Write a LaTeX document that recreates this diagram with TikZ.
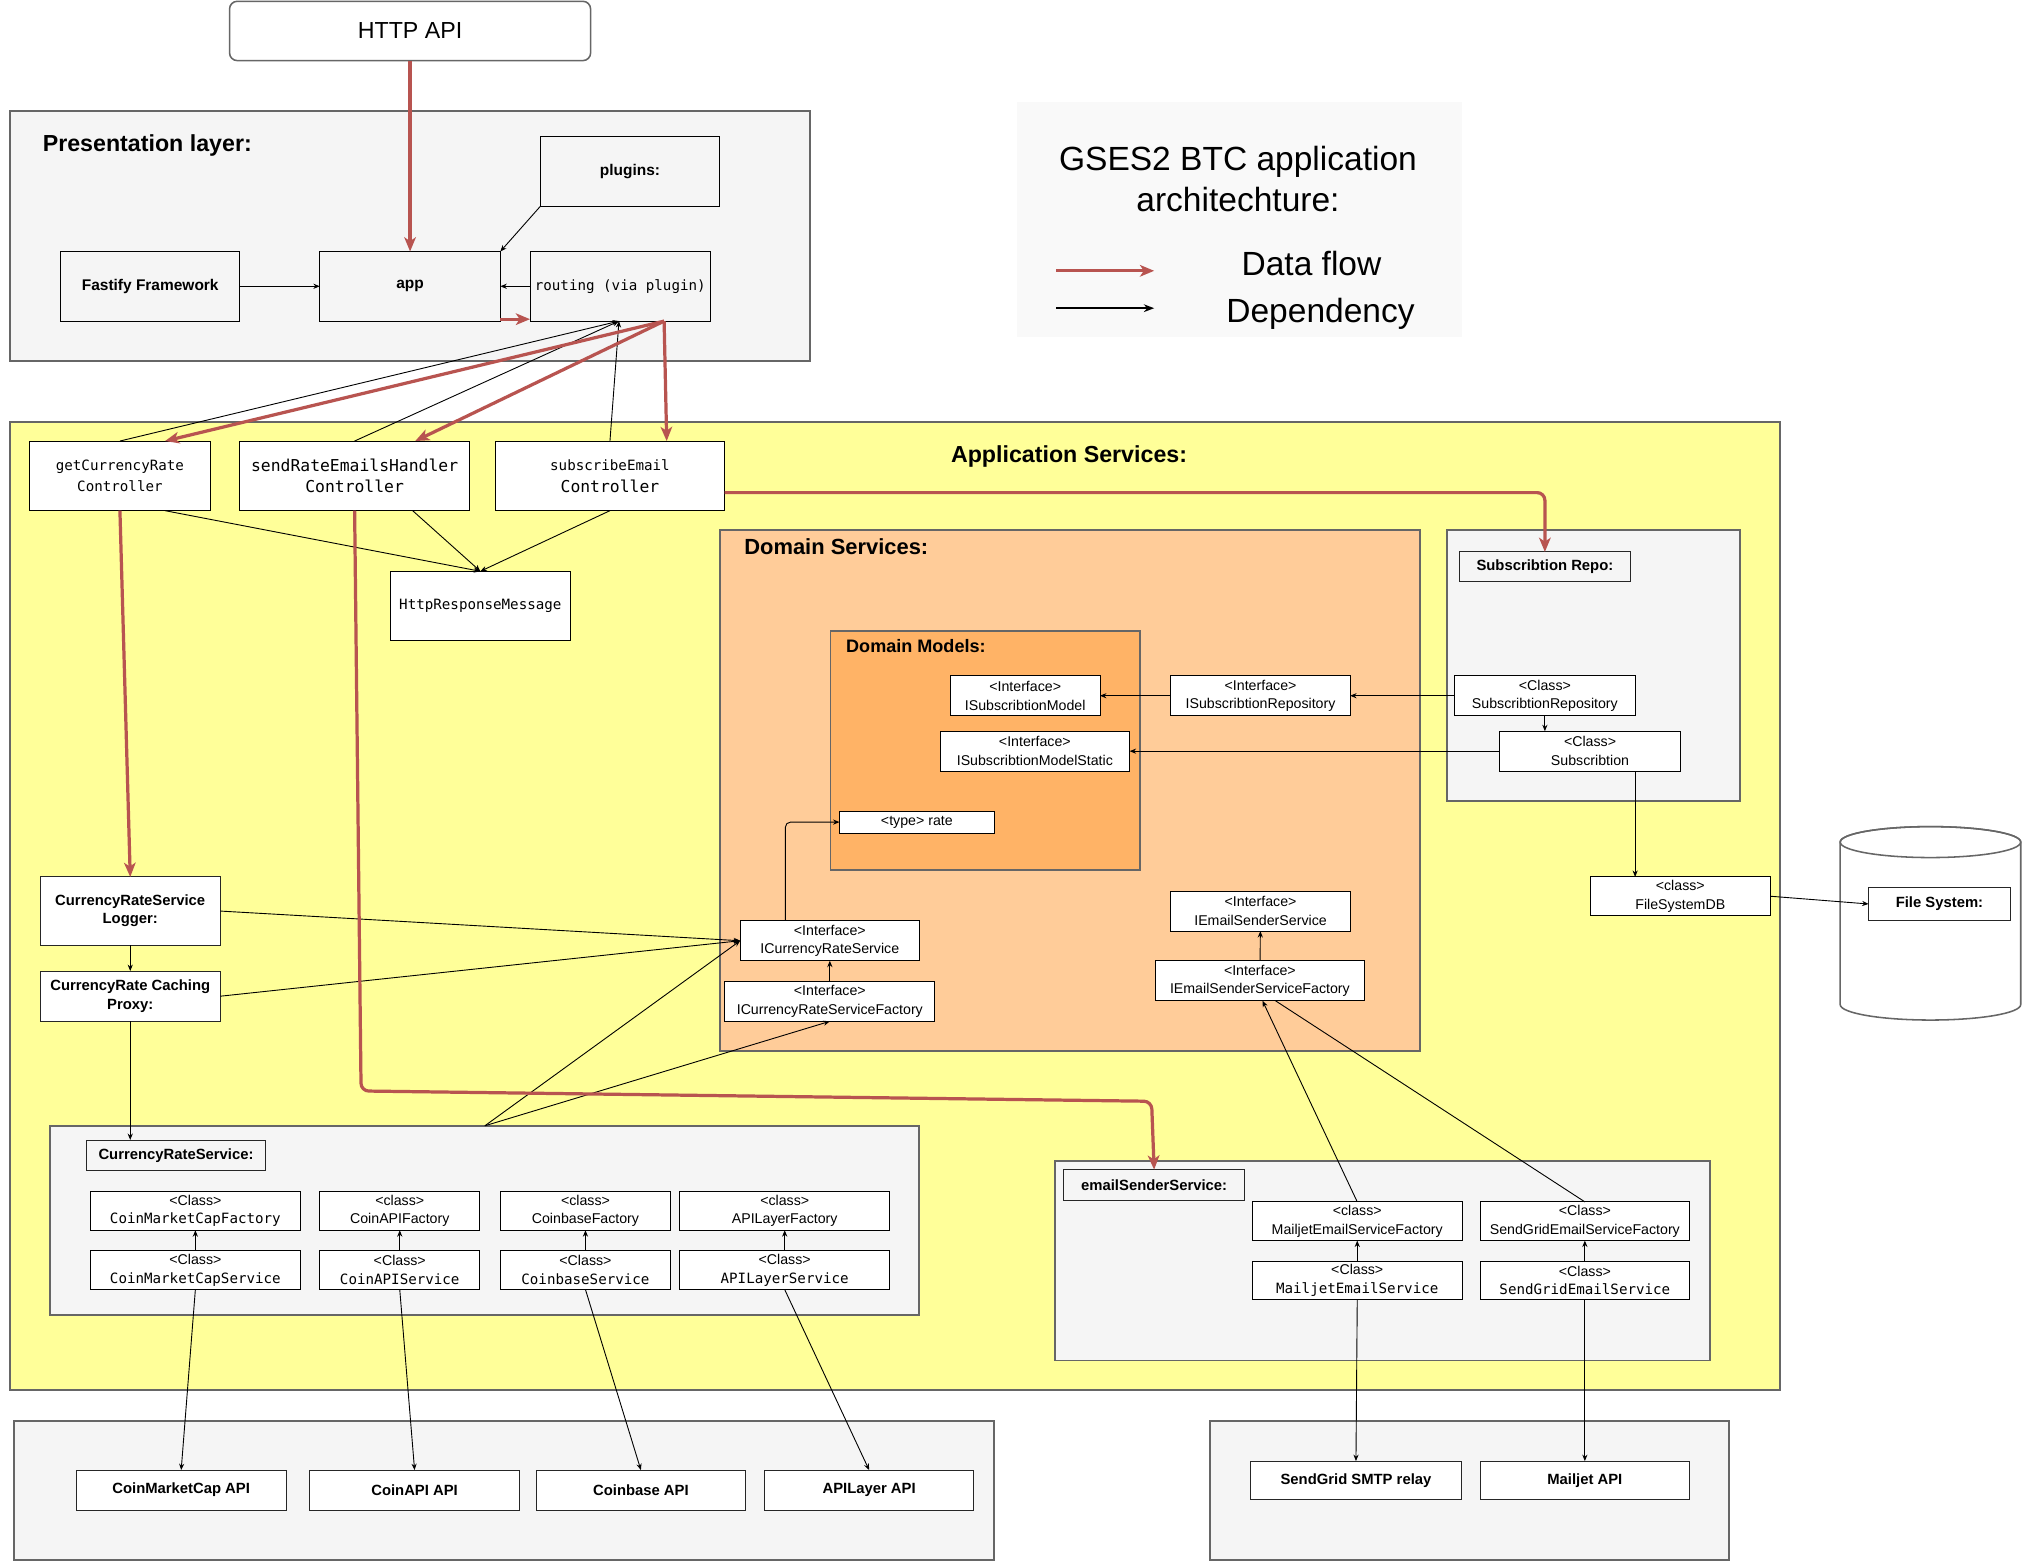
\documentclass[tikz,border=0pt]{standalone}
\usepackage{fontspec}
\setmainfont{Liberation Sans}
\setmonofont{DejaVu Sans Mono}
\usetikzlibrary{arrows.meta}

\definecolor{flowred}{HTML}{B85450}
\definecolor{layergray}{HTML}{F5F5F5}
\definecolor{layerline}{HTML}{666666}
\definecolor{appyellow}{HTML}{FFFF99}
\definecolor{domorange}{HTML}{FFCC99}
\definecolor{modorange}{HTML}{FFB366}
\definecolor{legendgray}{HTML}{F9F9F9}

\tikzset{
  sz/.style 2 args={minimum width=#1pt, minimum height=#2pt},
  layer/.style={draw=layerline, line width=1.5pt, anchor=north west, inner sep=0pt, outer sep=0pt},
  title/.style={anchor=west, inner sep=0pt},
  box/.style={draw, fill=white, line width=0.7pt, align=center, inner sep=0pt, outer sep=0pt, font=\fontsize{11}{14.5}\selectfont},
  lbl/.style={box, draw=black!85, font=\bfseries\fontsize{11.5}{14}\selectfont},
  gbox/.style={box, fill=layergray, font=\bfseries\fontsize{12}{14}\selectfont},
  flow/.style={draw=flowred, line width=2.5pt, -{Stealth[length=11pt,width=9pt,inset=3pt]}},
  dep/.style={line width=0.7pt, -{Stealth[length=5pt,width=4pt]}},
}

\begin{document}
\begin{tikzpicture}[x=1pt, y=-1pt]
  \useasboundingbox (0,0) rectangle (1568,1211);

  % layers
  \node[layer, fill=legendgray, draw=none, sz={345}{182}] (legend) at (789,79) {};
  \node[layer, fill=layergray, sz={620}{194}] (pres) at (8,86) {};
  \node[layer, fill=appyellow, sz={1372}{751}] (appsvc) at (8,327) {};
  \node[layer, fill=domorange, sz={543}{404}] (domsvc) at (558,411) {};
  \node[layer, fill=modorange, sz={240}{186}] (dommod) at (644,489) {};
  \node[layer, fill=layergray, sz={227}{210}] (subrepo) at (1122,411) {};
  \node[layer, fill=layergray, sz={674}{147}] (crs) at (39,873) {};
  \node[layer, fill=layergray, sz={508}{155}] (ess) at (818,900) {};
  \node[layer, fill=layergray, sz={760}{108}] (extapi) at (11,1102) {};
  \node[layer, fill=layergray, sz={403}{108}] (extmail) at (938,1102) {};

  \node[title, font=\bfseries\fontsize{18}{22}\selectfont] (prestitle) at (33,113) {Presentation layer:};
  \node[font=\bfseries\fontsize{18}{22}\selectfont] (apptitle) at (829,354) {Application Services:};
  \node[title, font=\bfseries\fontsize{17}{20}\selectfont] (domtitle) at (577,424) {Domain Services:};
  \node[title, font=\bfseries\fontsize{14}{17}\selectfont] (modtitle) at (656,501) {Domain Models:};

  % legend
  \node[font=\fontsize{26}{32}\selectfont, align=center] (legtitle) at (960,139) {GSES2 BTC application\\architechture:};
  \node[font=\fontsize{26}{32}\selectfont] (legflow) at (1017,204) {Data flow};
  \node[font=\fontsize{26}{32}\selectfont] (legdep) at (1024,243) {Dependency};
  \coordinate (flowA) at (819,210);
  \coordinate (flowB) at (895,210);
  \coordinate (depA) at (819,239);
  \coordinate (depB) at (895,239);
  \draw[flow] (flowA) -- (flowB);
  \draw[line width=1.3pt, -{Stealth[length=8pt,width=6pt]}] (depA) -- (depB);

  % presentation
  \node[box, draw=layerline, line width=1.2pt, rounded corners=6pt, sz={280}{46}, font=\fontsize{18}{22}\selectfont] (http) at (318,24) {HTTP API};
  \node[gbox, sz={139}{54}] (plugins) at (488.5,133) {plugins:};
  \node[gbox, sz={139}{54}] (fastify) at (116.5,222) {Fastify Framework};
  \node[gbox, sz={140}{54}] (app) at (318,222) {app};
  \node[gbox, sz={140}{54}, font=\ttfamily\fontsize{11}{14}\selectfont] (routing) at (481,222) {routing (via plugin)};

  % controllers
  \node[box, sz={140}{54}, font=\ttfamily\fontsize{11}{17}\selectfont] (getcr) at (93,369) {getCurrencyRate\\Controller};
  \node[box, sz={178}{54}, font=\ttfamily\fontsize{12.7}{17}\selectfont] (sendre) at (275,369) {sendRateEmailsHandler\\Controller};
  \node[box, sz={178}{54}, font=\ttfamily\fontsize{11}{17}\selectfont] (subem) at (473,369) {subscribeEmail\\{\fontsize{12.7}{17}\selectfont Controller}};
  \node[box, sz={139}{54}, font=\ttfamily\fontsize{11}{14}\selectfont] (httpresp) at (372.5,470) {HttpResponseMessage};

  \node[lbl, sz={140}{53}] (logger) at (101,706.5) {CurrencyRateService\\Logger:};
  \node[lbl, sz={140}{39}] (proxy) at (101,772.5) {CurrencyRate Caching\\Proxy:};

  % currency rate services
  \node[lbl, fill=layergray, sz={139}{24}] (crslbl) at (136.5,896) {CurrencyRateService:};
  \node[box, sz={163}{30}] (cmcf) at (151.5,939) {<Class>\\{\ttfamily CoinMarketCapFactory}};
  \node[box, sz={163}{30}] (cmcs) at (151.5,985) {<Class>\\{\ttfamily CoinMarketCapService}};
  \node[box, sz={124}{30}] (capif) at (310,939) {<class>\\CoinAPIFactory};
  \node[box, sz={124}{30}] (capis) at (310,985) {<Class>\\{\ttfamily CoinAPIService}};
  \node[box, sz={132}{30}] (cbf) at (454,939) {<class>\\CoinbaseFactory};
  \node[box, sz={132}{30}] (cbs) at (454,985) {<Class>\\{\ttfamily CoinbaseService}};
  \node[box, sz={163}{30}] (alf) at (608.5,939) {<class>\\APILayerFactory};
  \node[box, sz={163}{30}] (als) at (608.5,985) {<Class>\\{\ttfamily APILayerService}};

  \node[lbl, sz={163}{31}] (cmcapi) at (140.5,1155.5) {CoinMarketCap API};
  \node[lbl, sz={163}{31}] (capiapi) at (321.5,1155.5) {CoinAPI API};
  \node[lbl, sz={162}{31}] (cbapi) at (497,1155.5) {Coinbase API};
  \node[lbl, sz={162}{31}] (alapi) at (674,1155.5) {APILayer API};

  % domain
  \node[box, sz={116}{31}] (isubmodel) at (795,539.5) {<Interface>\\ISubscribtionModel};
  \node[box, sz={147}{31}] (isubstatic) at (802.5,582.5) {<Interface>\\ISubscribtionModelStatic};
  \node[box, sz={120}{17}] (rate) at (711,637.5) {<type> rate};
  \node[box, sz={139}{31}] (isubrepo) at (977.5,539.5) {<Interface>\\ISubscribtionRepository};
  \node[box, sz={139}{31}] (iess) at (977.5,706.5) {<Interface>\\IEmailSenderService};
  \node[box, sz={162}{31}] (iessf) at (977,760.5) {<Interface>\\IEmailSenderServiceFactory};
  \node[box, sz={139}{31}] (icrs) at (643.5,729.5) {<Interface>\\ICurrencyRateService};
  \node[box, sz={163}{31}] (icrsf) at (643.5,776.5) {<Interface>\\ICurrencyRateServiceFactory};

  % subscribtion repo and storage
  \node[lbl, fill=layergray, sz={132}{23}] (subrepolbl) at (1198,439.5) {Subscribtion Repo:};
  \node[box, sz={140}{31}] (subrepocls) at (1198,539.5) {<Class>\\SubscribtionRepository};
  \node[box, sz={140}{31}] (subcls) at (1233,582.5) {<Class>\\Subscribtion};
  \node[box, sz={140}{30}] (fsdb) at (1303,695) {<class>\\FileSystemDB};
  \filldraw[draw=layerline, fill=white, line width=1.2pt] (1427,653) -- (1427,779)
    arc[start angle=180, end angle=360, x radius=70pt, y radius=12pt] -- (1567,653)
    arc[start angle=0, end angle=180, x radius=70pt, y radius=12pt] -- cycle;
  \draw[draw=layerline, line width=1.2pt] (1497,653) ellipse[x radius=70pt, y radius=12pt];
  \node[lbl, sz={110}{26}] (fslbl) at (1504,701) {File System:};

  % email sender
  \node[lbl, fill=layergray, sz={140}{24}] (esslbl) at (895,919) {emailSenderService:};
  \node[box, sz={163}{30}] (mjf) at (1052.5,947) {<class>\\MailjetEmailServiceFactory};
  \node[box, sz={162}{30}] (sgf) at (1229,947) {<Class>\\SendGridEmailServiceFactory};
  \node[box, sz={163}{30}] (mjs) at (1052.5,993) {<Class>\\{\ttfamily MailjetEmailService}};
  \node[box, sz={162}{30}] (sgs) at (1229,993) {<Class>\\{\ttfamily SendGridEmailService}};
  \node[lbl, sz={163}{30}] (smtp) at (1051.5,1148) {SendGrid SMTP relay};
  \node[lbl, sz={162}{30}] (mjapi) at (1229,1148) {Mailjet API};

  % dependencies
  \draw[dep] (fastify) -- (app);
  \draw[dep] (routing) -- (app);
  \draw[dep] (plugins.south west) -- (app.north east);
  \draw[dep] (getcr.north) -- ([xshift=-1pt]routing.south);
  \draw[dep] (sendre.north) -- ([xshift=-1pt]routing.south);
  \draw[dep] (subem.north) -- ([xshift=-1pt]routing.south);
  \draw[dep] ([xshift=35pt]getcr.south) -- (httpresp.north);
  \draw[dep] ([xshift=45pt]sendre.south) -- (httpresp.north);
  \draw[dep] (subem.south) -- (httpresp.north);
  \draw[dep] (logger) -- (proxy);
  \draw[dep] (logger.east) -- (icrs.west);
  \draw[dep] (proxy.east) -- (icrs.west);
  \draw[dep] (proxy.south) -- (proxy.south |- crslbl.north);
  \draw[dep] (crs.north) -- (icrs.west);
  \draw[dep] (crs.north) -- (icrsf.south);
  \draw[dep] (icrsf) -- (icrs);
  \draw[dep, rounded corners=4pt] ([xshift=-34.5pt]icrs.north) |- (rate.west);
  \draw[dep] (isubrepo) -- (isubmodel);
  \draw[dep] (subrepocls) -- (isubrepo);
  \draw[dep] (subcls.west) -- (isubstatic.east);
  \draw[dep] (subrepocls.south) -- (subrepocls.south |- subcls.north);
  \draw[dep] ([xshift=35pt]subcls.south) -- ([xshift=-35pt]fsdb.north);
  \draw[dep] (fsdb.east) -- (fslbl.west);
  \draw[dep] (iessf) -- (iess);
  \draw[dep] (mjf.north) -- ([xshift=2pt]iessf.south);
  \draw[line width=0.7pt] (sgf.north) -- ([xshift=12pt]iessf.south);
  \draw[dep] (cmcs) -- (cmcf);
  \draw[dep] (capis) -- (capif);
  \draw[dep] (cbs) -- (cbf);
  \draw[dep] (als) -- (alf);
  \draw[dep] (mjs) -- (mjf);
  \draw[dep] (sgs) -- (sgf);
  \draw[dep] (cmcs.south) -- (cmcapi.north);
  \draw[dep] (capis.south) -- (capiapi.north);
  \draw[dep] (cbs.south) -- (cbapi.north);
  \draw[dep] (als.south) -- (alapi.north);
  \draw[dep] (mjs.south) -- (smtp.north);
  \draw[dep] (sgs.south) -- (mjapi.north);

  % data flow
  \draw[flow] (http) -- (app);
  \draw[flow] ([yshift=1.5pt]app.south east) -- ([yshift=1.5pt]routing.south west);
  \draw[flow] ([xshift=34pt]routing.south) -- ([xshift=35pt]getcr.north);
  \draw[flow] ([xshift=34pt]routing.south) -- ([xshift=47pt]sendre.north);
  \draw[flow] ([xshift=34pt]routing.south) -- ([xshift=44pt]subem.north);
  \draw[flow] (getcr.south) -- (logger.north);
  \draw[flow, rounded corners=6pt] (sendre.south) -- (280,846) -- (893,854) -- (esslbl.north);
  \draw[flow, rounded corners=6pt] ([yshift=-13pt]subem.east) -| (subrepolbl.north);
\end{tikzpicture}
\end{document}
